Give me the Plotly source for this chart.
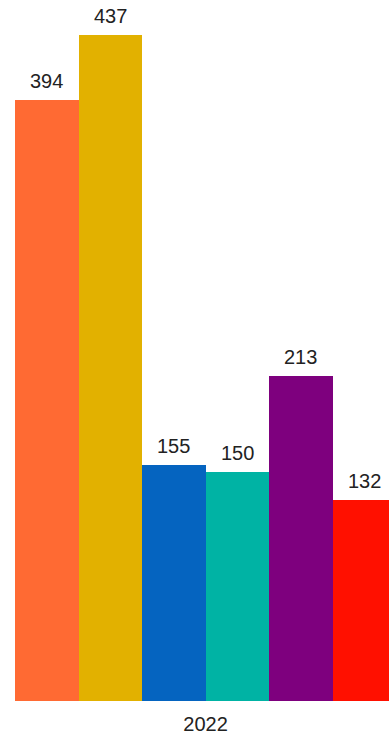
import plotly.graph_objects as go

categories = ["2022"]
series_names = ["A", "B", "C", "D", "E", "F"]
series_values = [[394], [437], [155], [150], [213], [132]]
colors = ["#FF6A33", "#E2B100", "#0564C0", "#00B3A4", "#7E007E", "#FF1000"]

fig = go.Figure()
n = len(series_names)
for i, (name, vals, col) in enumerate(zip(series_names, series_values, colors)):
    fig.add_trace(go.Bar(
        x=categories, y=vals, name=name, marker_color=col,
        marker_line_width=0,
    ))
    for ci, v in enumerate(vals):
        fig.add_annotation(
            x=ci - 0.5 + (i + 0.5) / n, y=v, xref="x", yref="y",
            text=str(v), showarrow=False, yanchor="middle", yshift=19,
            font=dict(size=20, color="#222222", family="Liberation Sans, Arial"),
        )

fig.update_layout(
    width=389, height=735,
    margin=dict(l=15, r=0, t=0, b=32),
    barmode="group", bargap=0, bargroupgap=0,
    showlegend=False,
    plot_bgcolor="white", paper_bgcolor="white",
    font=dict(family="Liberation Sans, Arial", color="#222222"),
)
fig.update_xaxes(range=[-0.5, 0.4816], showgrid=False, showline=False,
                 tickfont=dict(size=20, color="#222222"), ticks="",
                 ticklabelstandoff=9)
fig.update_yaxes(range=[0, 459.9], visible=False)
fig.write_html("out.html", config={"displayModeBar": False},
               post_script="document.body.style.margin='0';document.body.style.overflow='hidden';")
